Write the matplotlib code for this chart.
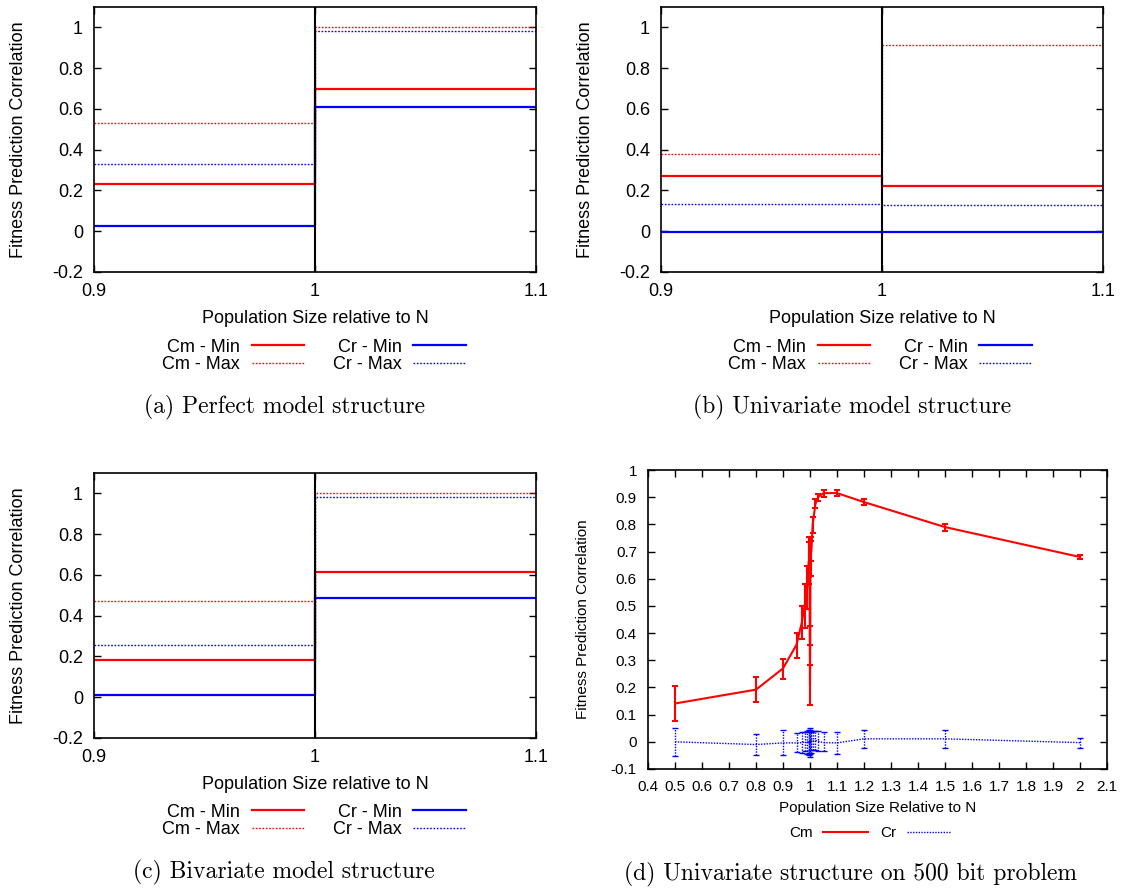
import numpy as np
import matplotlib.pyplot as plt

plt.rcParams["font.family"] = ["Liberation Sans", "DejaVu Sans"]
plt.rcParams["axes.linewidth"] = 1.2

# ---- panels (a)-(c): step values left (0.9-1.0) and right (1.0-1.1) of N
step_x = [0.9, 1.0, 1.1]
series_names = ["Cm - Min", "Cm - Max", "Cr - Min", "Cr - Max"]

perfect = {
    "Cm - Min": [0.23, 0.70],
    "Cm - Max": [0.53, 1.00],
    "Cr - Min": [0.025, 0.608],
    "Cr - Max": [0.331, 0.984],
}
univariate = {
    "Cm - Min": [0.270, 0.221],
    "Cm - Max": [0.377, 0.916],
    "Cr - Min": [-0.003, -0.003],
    "Cr - Max": [0.133, 0.128],
}
bivariate = {
    "Cm - Min": [0.185, 0.615],
    "Cm - Max": [0.470, 1.00],
    "Cr - Min": [0.011, 0.489],
    "Cr - Max": [0.257, 0.984],
}

# ---- panel (d): 500 bit problem
d_x = [0.5, 0.8, 0.9, 0.95, 0.97, 0.98, 0.99, 0.995, 0.998, 1.0, 1.001,
       1.002, 1.005, 1.01, 1.02, 1.03, 1.05, 1.1, 1.2, 1.5, 2.0]
cm_mean = [0.141, 0.192, 0.27, 0.357, 0.44, 0.50, 0.57, 0.66, 0.68, 0.21,
           0.39, 0.70, 0.70, 0.80, 0.875, 0.90, 0.915, 0.915, 0.882, 0.79, 0.68]
cm_lo = [0.076, 0.147, 0.23, 0.309, 0.38, 0.42, 0.49, 0.58, 0.605, 0.135,
         0.355, 0.666, 0.61, 0.77, 0.86, 0.885, 0.902, 0.905, 0.872, 0.777, 0.672]
cm_hi = [0.205, 0.238, 0.306, 0.402, 0.50, 0.58, 0.648, 0.735, 0.755, 0.284,
         0.425, 0.74, 0.755, 0.826, 0.895, 0.913, 0.927, 0.925, 0.892, 0.80, 0.686]
cr_mean = [0.0, -0.01, -0.004, -0.004, -0.003, 0.0, -0.004, 0.003, -0.005, 0.0,
           0.002, -0.003, 0.004, 0.002, 0.005, 0.002, -0.003, -0.004, 0.011, 0.011, -0.003]
cr_lo = [-0.053, -0.049, -0.05, -0.038, -0.04, -0.035, -0.045, -0.04, -0.05, -0.055,
         -0.045, -0.04, -0.03, -0.03, -0.03, -0.035, -0.035, -0.046, -0.022, -0.022, -0.024]
cr_hi = [0.052, 0.03, 0.042, 0.033, 0.035, 0.035, 0.04, 0.045, 0.04, 0.05,
         0.045, 0.035, 0.04, 0.04, 0.04, 0.04, 0.035, 0.036, 0.042, 0.042, 0.015]

styles = {
    "Cm - Min": dict(color="#ff0000", lw=1.6, ls="-"),
    "Cm - Max": dict(color="#ff0000", lw=1.0, ls=(0, (1.2, 1.2))),
    "Cr - Min": dict(color="#0000ff", lw=1.6, ls="-"),
    "Cr - Max": dict(color="#0000ff", lw=1.0, ls=(0, (1.2, 1.2))),
}

W, H = 1129, 889
fig = plt.figure(figsize=(W / 100, H / 100), dpi=100)


def step_panel(rect, data, legend_xy, caption, caption_xy):
    ax = fig.add_axes(rect)
    for name in series_names:
        vals = data[name]
        ax.step(step_x, vals + [vals[-1]], where="post", label=name, **styles[name])
    ax.axvline(step_x[1], color="black", lw=1.5, zorder=5)
    ax.set_xlim(0.9, 1.1)
    ax.set_ylim(-0.2, 1.1)
    ax.set_xticks(step_x)
    ax.set_xticklabels(["0.9", "1", "1.1"])
    ax.set_yticks([-0.2, 0, 0.2, 0.4, 0.6, 0.8, 1.0])
    ax.set_yticklabels(["-0.2", "0", "0.2", "0.4", "0.6", "0.8", "1"])
    ax.tick_params(direction="in", length=5, width=1, labelsize=13, pad=8,
                   right=True, top=True)
    ax.set_xlabel("Population Size relative to N", fontsize=13, va="center")
    ax.set_ylabel("Fitness Prediction Correlation", fontsize=13, va="center")
    ax.xaxis.set_label_coords(0.5, -0.177)
    ax.yaxis.set_label_coords(-0.171, 0.5)
    ax.legend(ncol=2, markerfirst=False, frameon=False, fontsize=13,
              handlelength=2.9, handletextpad=0.65, columnspacing=1.6,
              labelspacing=0.05, loc="center",
              bbox_to_anchor=legend_xy, bbox_transform=fig.transFigure)
    fig.text(caption_xy[0], caption_xy[1], caption, family="cmr10",
             fontsize=17, ha="center", va="center")
    return ax


step_panel([94 / W, 1 - 272 / H, 442 / W, 265 / H], perfect,
           (314 / W, 1 - 356 / H), "(a) Perfect model structure", (284 / W, 1 - 407 / H))
step_panel([661 / W, 1 - 272 / H, 442 / W, 265 / H], univariate,
           (880 / W, 1 - 356 / H), "(b) Univariate model structure", (852 / W, 1 - 407 / H))
step_panel([94 / W, 1 - 738 / H, 442 / W, 265 / H], bivariate,
           (314 / W, 1 - 821 / H), "(c) Bivariate model structure", (284 / W, 1 - 872 / H))

# panel (d)
axd = fig.add_axes([648 / W, 1 - 769 / H, 459 / W, 299 / H])
x = np.array(d_x)
m = np.array(cm_mean)
cm_err = [m - np.array(cm_lo), np.array(cm_hi) - m]
axd.errorbar(x, m, yerr=cm_err, fmt="none", ecolor="#ff0000", elinewidth=1.5,
             capsize=2.5, capthick=1.5)
axd.plot(x, m, color="#ff0000", lw=1.5, label="Cm")
r = np.array(cr_mean)
cr_err = [r - np.array(cr_lo), np.array(cr_hi) - r]
eb = axd.errorbar(x, r, yerr=cr_err, fmt="none", ecolor="#0000ff",
                  elinewidth=1.0, capsize=2.5, capthick=1.0)
eb[2][0].set_linestyle((0, (1, 1)))
axd.plot(x, r, color="#0000ff", lw=1.0, ls=(0, (1, 1)), label="Cr")
axd.set_xlim(0.4, 2.1)
axd.set_ylim(-0.1, 1.0)
xt = np.round(np.arange(0.4, 2.11, 0.1), 1)
axd.set_xticks(xt)
axd.set_xticklabels(["%g" % v for v in xt])
yt = np.round(np.arange(-0.1, 1.01, 0.1), 1)
axd.set_yticks(yt)
axd.set_yticklabels(["%g" % v for v in yt])
axd.tick_params(direction="in", length=5, width=1, labelsize=11, pad=8,
                right=True, top=True)
axd.set_xlabel("Population Size Relative to N", fontsize=11, va="center")
axd.set_ylabel("Fitness Prediction Correlation", fontsize=11, va="center")
axd.xaxis.set_label_coords(0.5, -0.130)
axd.yaxis.set_label_coords(-0.1416, 0.5)
axd.legend(ncol=2, markerfirst=False, frameon=False, fontsize=11,
           handlelength=2.9, handletextpad=0.7, columnspacing=0.8,
           loc="center", bbox_to_anchor=(870 / W, 1 - 833 / H),
           bbox_transform=fig.transFigure)
fig.text(851 / W, 1 - 874 / H, "(d) Univariate structure on 500 bit problem",
         family="cmr10", fontsize=17, ha="center", va="center")

fig.savefig("out.png", dpi=100)
